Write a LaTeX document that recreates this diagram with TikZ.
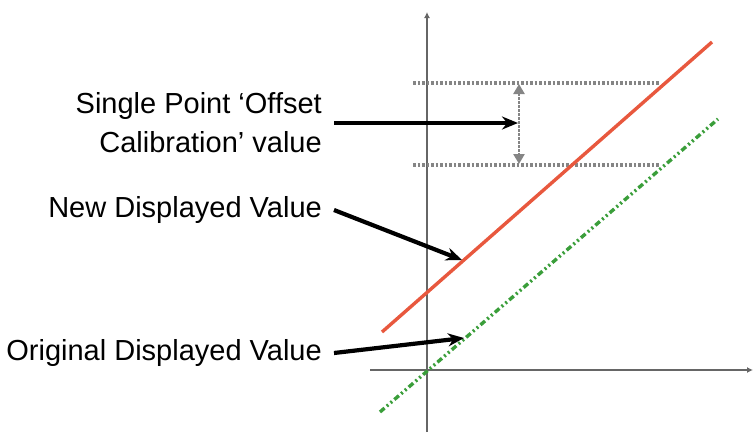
\documentclass[tikz,border=0pt]{standalone}
\usepackage{fontspec}
\setmainfont{Liberation Sans}
\usepackage{xcolor}
\usetikzlibrary{positioning,arrows.meta,calc}
\definecolor{axisgrey}{HTML}{666666}
\definecolor{levelgrey}{HTML}{858585}
\definecolor{newred}{HTML}{E8583E}
\definecolor{origgreen}{HTML}{3A9E3A}

\begin{document}
\begin{tikzpicture}[
    x=1pt, y=-1pt,
    every node/.style={font=\fontsize{29}{39}\selectfont, inner xsep=12pt, inner ysep=0pt},
    lbl/.style={anchor=east, align=right},
    axis/.style={line width=2.4pt, color=axisgrey, -{Latex[length=6pt,width=6pt]}},
    newln/.style={line width=3.4pt, color=newred},
    origln/.style={line width=3.4pt, color=origgreen,
                   dash pattern=on 6pt off 3pt on 2pt off 3pt on 2pt off 3pt},
    lvl/.style={line width=3.2pt, color=levelgrey, dash pattern=on 2.5pt off 2pt},
    ptr/.style={line width=4.2pt, -{Stealth[length=16pt,width=13pt]}},
    span/.style={line width=2.6pt, color=levelgrey, dash pattern=on 2.5pt off 1.5pt,
                 {Triangle[length=10pt,width=11pt]}-{Triangle[length=10pt,width=11pt]}}
  ]
  \useasboundingbox (0,0) rectangle (753,432);

  % ---- axes -----------------------------------------------------------
  \coordinate (ybot) at (427,432);
  \coordinate (ytop) at (427,12);
  \coordinate (xleft) at (370,370);
  \coordinate (xright) at (753,370);
  \draw[axis] (ybot) -- (ytop);
  \draw[axis] (xleft) -- (xright);

  % ---- offset levels --------------------------------------------------
  \coordinate (hiL) at (413,83);
  \coordinate (hiR) at (660,83);
  \coordinate (loL) at (413,165);
  \coordinate (loR) at (660,165);
  \draw[lvl] (hiL) -- (hiR);
  \draw[lvl] (loL) -- (loR);
  \coordinate (spTop) at (519,84);
  \coordinate (spBot) at (519,164);
  \draw[span] (spTop) -- (spBot);

  % ---- new and original lines -----------------------------------------
  \coordinate (redA) at (382,332);
  \coordinate (redB) at (712,42);
  \coordinate (grnA) at (380,412);
  \coordinate (grnB) at (718,119);
  \draw[newln] (redA) -- (redB);
  \draw[origln] (grnA) -- (grnB);

  % ---- labels ---------------------------------------------------------
  \node[lbl] (offset) at (334,123) {Single Point ‘Offset\\Calibration’ value};
  \node[lbl] (newval) at (334,210) {New Displayed Value};
  \node[lbl] (origval) at (334,353) {Original Displayed Value};

  \coordinate (offTip) at (518,123);
  \coordinate (newTip) at (462,260);
  \coordinate (origTip) at (464,338);
  \draw[ptr] (offset.east) -- (offTip);
  \draw[ptr] (newval.east) -- (newTip);
  \draw[ptr] (origval.east) -- (origTip);
\end{tikzpicture}
\end{document}
